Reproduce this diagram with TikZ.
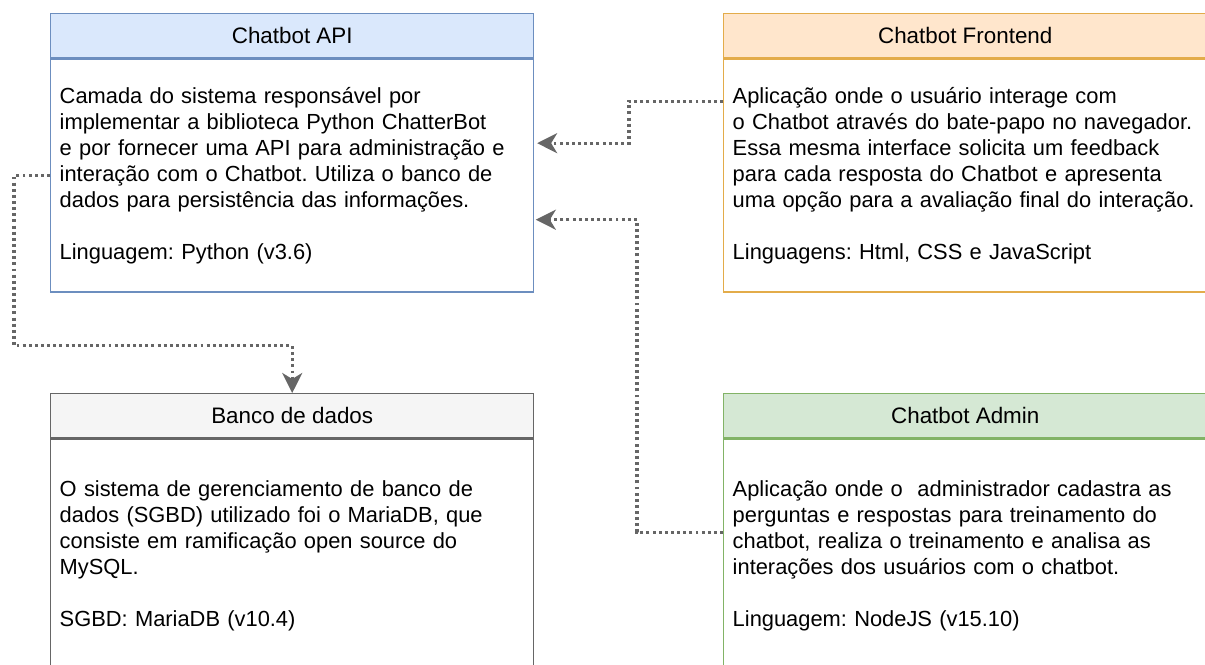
\documentclass[tikz,border=0pt]{standalone}
\usepackage{fontspec}
\setmainfont{Liberation Sans}
\usepackage{tikz}
\usetikzlibrary{arrows.meta}
\usetikzlibrary{positioning}
\frenchspacing

\definecolor{apifill}{HTML}{DAE8FC}
\definecolor{apiline}{HTML}{6C8EBF}
\definecolor{frontfill}{HTML}{FFE6CC}
\definecolor{frontline}{HTML}{E3AC4A}
\definecolor{bankfill}{HTML}{F5F5F5}
\definecolor{bankline}{HTML}{666666}
\definecolor{adminfill}{HTML}{D5E8D4}
\definecolor{adminline}{HTML}{82B366}
\definecolor{linkgray}{HTML}{666666}

\tikzset{head/.style = {draw, line width=1.1pt, anchor=north west, inner sep=0,
                        minimum width=362.25pt, minimum height=33pt,
                        font=\fontsize{16.8}{19.4}\selectfont}}
\tikzset{body/.style = {draw, line width=1.1pt, inner xsep=6.75pt, inner ysep=0,
                        minimum width=362.25pt, minimum height=174.75pt,
                        text width=348.75pt, align=left,
                        font=\fontsize{16.4}{19.4}\selectfont}}
\tikzset{link/.style = {draw=linkgray, line width=2.4pt,
                        dash pattern=on 2.2pt off 2.4pt,
                        -{Stealth[length=15pt,width=15pt,inset=4.5pt,sep=0pt]}}}

\begin{document}
\begin{tikzpicture}[x=0.75pt, y=-0.75pt]
    \useasboundingbox (0,0) rectangle (1205,664);
    \clip (0,0) rectangle (1205,664);

    % API
    \node [head, fill=apifill, draw=apiline] (apihead) at (50,13) {Chatbot API};
    \node [body, draw=apiline, below=0pt of apihead] (api) {%
      Camada do sistema responsável por\\
      implementar a biblioteca Python ChatterBot\\
      e por fornecer uma API para administração e\\
      interação com o Chatbot. Utiliza o banco de\\
      dados para persistência das informações.\\[19.4pt]
      Linguagem: Python (v3.6)};

    % frontend
    \node [head, fill=frontfill, draw=frontline] (fronthead) at (723,13) {Chatbot Frontend};
    \node [body, draw=frontline, below=0pt of fronthead] (front) {%
      Aplicação onde o usuário interage com\\
      o Chatbot através do bate-papo no navegador.\\
      Essa mesma interface solicita um feedback\\
      para cada resposta do Chatbot e apresenta\\
      uma opção para a avaliação final do interação.\\[19.4pt]
      Linguagens: Html, CSS e JavaScript};

    % banco de dados
    \node [head, fill=bankfill, draw=bankline] (bankhead) at (50,393) {Banco de dados};
    \node [body, draw=bankline, below=0pt of bankhead] (bank) {%
      O sistema de gerenciamento de banco de\\
      dados (SGBD) utilizado foi o MariaDB, que\\
      consiste em ramificação open source do\\
      MySQL.\\[19.4pt]
      SGBD: MariaDB (v10.4)};

    % admin
    \node [head, fill=adminfill, draw=adminline] (adminhead) at (723,393) {Chatbot Admin};
    \node [body, draw=adminline, below=0pt of adminhead] (admin) {%
      Aplicação onde o\ \ administrador cadastra as\\
      perguntas e respostas para treinamento do\\
      chatbot, realiza o treinamento e analisa as\\
      interações dos usuários com o chatbot.\\[19.4pt]
      Linguagem: NodeJS (v15.10)};

    % ligacoes
    \draw [link] (api.west) -- ++(-36,0) -- ++(0,170) -| (bankhead.north);
    \draw [link] ([yshift=55.9pt]front.west) -- ++(-94,0) |- ([xshift=2pt,yshift=24.4pt]api.east);
    \draw [link] ([yshift=17.6pt]admin.west) -- ++(-86,0) |- ([xshift=1pt,yshift=-33pt]api.east);
\end{tikzpicture}
\end{document}
